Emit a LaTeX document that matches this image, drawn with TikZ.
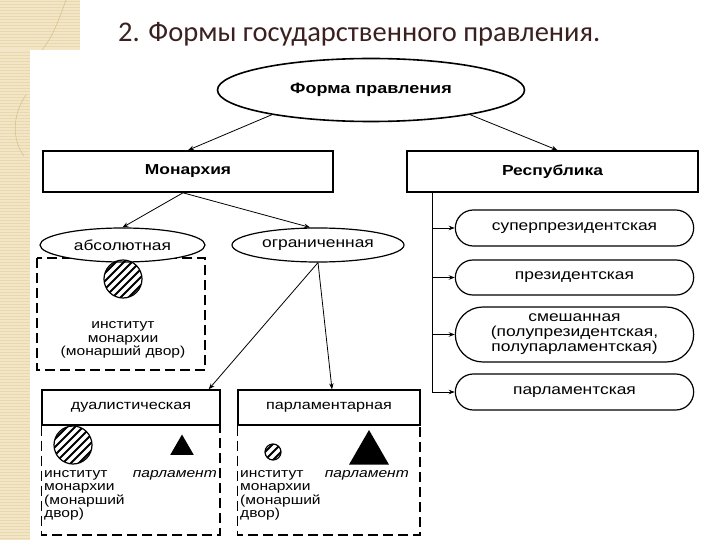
\documentclass[tikz,border=0pt]{standalone}
\usepackage{fontspec}
\setmainfont{Liberation Sans}[FakeStretch=1.2]
\newfontfamily\titlefont{Carlito}
\usetikzlibrary{arrows.meta,shapes.geometric,shapes.misc}

\definecolor{paper}{HTML}{F3E6C6}
\definecolor{stripe}{HTML}{E9D7AE}
\definecolor{swirl}{HTML}{D8C38E}
\definecolor{titlecol}{HTML}{3B2020}

\begin{document}
\begin{tikzpicture}[
  x=1pt, y=-1pt,
  bigbox/.style={rectangle, draw, line width=1.6pt, minimum width=290pt, minimum height=41pt, font=\bfseries\fontsize{14.5}{16}\selectfont},
  subbox/.style={rectangle, draw, line width=1.4pt, minimum width=178pt, minimum height=35pt, font=\fontsize{13.5}{15}\selectfont},
  kind/.style={ellipse, draw, fill=white, line width=1.2pt, minimum width=165pt, minimum height=34pt, inner sep=0pt, font=\fontsize{14.5}{16}\selectfont},
  variant/.style={rounded rectangle, draw, line width=1.2pt, minimum width=245pt, minimum height=36pt, align=center, font=\fontsize{14.5}{15}\selectfont},
  dashbox/.style={draw, dash pattern=on 10pt off 5pt, line width=1.2pt},
  arr/.style={-{Stealth[length=6pt,width=4.5pt]}, line width=0.8pt},
  hatched/.style={circle, draw, line width=1.2pt, inner sep=0pt,
    path picture={\foreach \s in {-32,-24,...,32}
      \draw[line width=1.8pt] ([xshift=\s pt]path picture bounding box.center) ++(-30pt,-30pt) -- ++(60pt,60pt);}},
  powertri/.style={regular polygon, regular polygon sides=3, fill=black, inner sep=0pt},
  captext/.style={align=left, inner sep=0pt, font=\fontsize{13}{13.5}\selectfont}
]
\useasboundingbox (0,0) rectangle (720,540);

% Background strip
\fill[paper] (0,0) rectangle (80,50);
\fill[paper] (0,50) rectangle (30,540);
\foreach \yy in {1.5,4.5,...,48} \draw[stripe, line width=0.7pt] (0,\yy) -- (80,\yy);
\foreach \yy in {52.5,55.5,...,540} \draw[stripe, line width=0.7pt] (0,\yy) -- (30,\yy);
\draw[swirl, line width=0.6pt] (66,0) .. controls (58,22) and (52,38) .. (42,50);
\draw[swirl, line width=0.6pt] (26,95) .. controls (12,115) and (12,140) .. (24,156);

% Title
\node[anchor=base west, inner sep=0pt, text=titlecol, font=\titlefont\fontsize{28.5}{32}\selectfont] (title) at (118,42) {2. Формы государственного правления.};

% Top level
\node[ellipse, draw, line width=1.6pt, minimum width=307pt, minimum height=63pt, font=\bfseries\fontsize{15}{17}\selectfont] (form) at (371,90) {Форма правления};
\node[bigbox] (mon) at (188,171.5) {Монархия};
\node[bigbox, minimum width=291pt] (rep) at (552.5,171.5) {Республика};

% Monarchy branch
\draw[dashbox] (37,258) rectangle (205,370);
\node[kind] (abs) at (122.5,245) {абсолютная};
\node[kind, minimum width=172pt] (lim) at (318,245) {ограниченная};
\node[hatched, minimum size=38pt] (abscirc) at (123,279) {};
\node[captext, align=center] (abstext) at (123,340) {институт\\монархии\\(монарший двор)};

\node[subbox] (dual) at (131,407.5) {дуалистическая};
\node[subbox, minimum width=182pt] (parl) at (329,407.5) {парламентарная};
\draw[dashbox] (dual.south west) rectangle (220,535);
\draw[dashbox] (parl.south west) rectangle (420,535);

\node[hatched, minimum size=38pt] (dualcirc) at (73,445) {};
\node[powertri, minimum size=27pt] (dualtri) at (182,448) {};
\node[captext, anchor=north west] (dualtext) at (44,470) {институт\\монархии\\(монарший\\двор)};
\node[captext, anchor=north east, font=\itshape\fontsize{13}{13.5}\selectfont] (dualparl) at (217,470) {парламент};

\node[hatched, minimum size=16pt] (parlcirc) at (273,452) {};
\node[powertri, minimum size=46pt] (parltri) at (369,453) {};
\node[captext, anchor=north west] (parltext) at (240,470) {институт\\монархии\\(монарший\\двор)};
\node[captext, anchor=north east, font=\itshape\fontsize{13}{13.5}\selectfont] (parlparl) at (409,470) {парламент};

% Republic branch
\node[variant] (super) at (574.5,228) {суперпрезидентская};
\node[variant, minimum height=35pt] (pres) at (574.5,277.5) {президентская};
\node[variant, minimum height=55pt] (mixed) at (574.5,334.5) {смешанная\\(полупрезидентская,\\полупарламентская)};
\node[variant] (parlrep) at (574.5,392) {парламентская};
\coordinate (trunk) at ([xshift=26pt]rep.south west);

% Connections
\draw[arr] (form.194) -- (mon.north);
\draw[arr] (form.-14) -- ([xshift=5pt]rep.north);
\draw[arr] ([xshift=-5pt]mon.south) -- (abs.north);
\draw[arr] ([xshift=-5pt]mon.south) -- ([xshift=-8pt]lim.north);
\draw[arr] (lim.south) -- ([xshift=-12pt]dual.north east);
\draw[arr] (lim.south) -- ([xshift=3pt]parl.north);
\foreach \v in {super,pres,mixed,parlrep}
  \draw[arr] (trunk) |- (\v.west);
\end{tikzpicture}
\end{document}
